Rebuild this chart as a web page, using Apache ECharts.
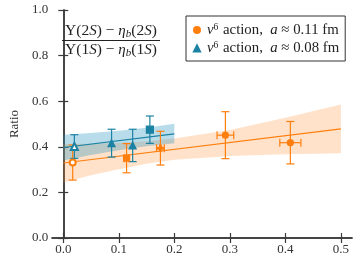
<!DOCTYPE html>
<html>
<head>
<meta charset="utf-8">
<script src="https://cdn.jsdelivr.net/npm/echarts@6/dist/echarts.min.js"></script>
<style>html,body{margin:0;padding:0;background:#fff;}#c{width:357px;height:257px;}</style>
</head>
<body>
<div id="c"></div>
<script>
// ---- data ----
const xTicks = [0.0, 0.1, 0.2, 0.3, 0.4, 0.5];
const yTicks = [0.0, 0.2, 0.4, 0.6, 0.8, 1.0];

const orangeX    = [0.017, 0.114, 0.175, 0.292, 0.409];
const orangeY    = [0.331, 0.350, 0.394, 0.451, 0.418];
const orangeYErr = [0.077, 0.064, 0.074, 0.103, 0.093];
const orangeXErr = [0.000, 0.004, 0.007, 0.015, 0.019];

const blueX    = [0.020, 0.087, 0.125, 0.156];
const blueY    = [0.401, 0.416, 0.406, 0.475];
const blueYErr = [0.052, 0.061, 0.071, 0.060];
const blueXErr = [0.000, 0.000, 0.000, 0.000];

const orangeFitX = [0.0, 0.5];
const orangeFitY = [0.329, 0.479];
const blueFitX = [0.0, 0.2];
const blueFitY = [0.397, 0.457];

const orangeBandX  = [0.0, 0.05, 0.1, 0.15, 0.2, 0.3, 0.4, 0.5];
const orangeBandLo = [0.243, 0.275, 0.302, 0.326, 0.343, 0.360, 0.367, 0.372];
const orangeBandHi = [0.412, 0.413, 0.417, 0.424, 0.436, 0.474, 0.527, 0.585];
const blueBandX  = [0.0, 0.05, 0.1, 0.15, 0.2];
const blueBandLo = [0.340, 0.364, 0.385, 0.402, 0.416];
const blueBandHi = [0.453, 0.460, 0.470, 0.484, 0.501];

// ---- styles ----
const ORANGE = '#ff7f0e';
const BLUE = '#1b82a3';
const AX = '#3a3a3a';
const FONT = 'Liberation Serif';
const plusPath = 'path://M3.5,0H6.5V3.5H10V6.5H6.5V10H3.5V6.5H0V3.5H3.5Z';
const orangeSymbols = ['emptyCircle', 'rect', plusPath, 'circle', 'circle'];
const blueSymbols = ['emptyTriangle', 'triangle', 'triangle', 'rect'];

function zip(xs, ys) { return xs.map((x, i) => [x, ys[i]]); }

function bandSeries(xs, lo, hi, color) {
  return {
    type: 'custom', z: 1, silent: true,
    data: [[xs[0], lo[0]]],
    renderItem: function (params, api) {
      const pts = [];
      for (let i = 0; i < xs.length; i++) pts.push(api.coord([xs[i], hi[i]]));
      for (let i = xs.length - 1; i >= 0; i--) pts.push(api.coord([xs[i], lo[i]]));
      return { type: 'polygon', shape: { points: pts }, style: { fill: color } };
    }
  };
}

function errSeries(xs, ys, ye, xe, color) {
  return {
    type: 'custom', z: 3, silent: true,
    data: xs.map((x, i) => [x, ys[i], ye[i], xe[i]]),
    renderItem: function (params, api) {
      const x = api.value(0), y = api.value(1), dy = api.value(2), dx = api.value(3);
      const t = api.coord([x, y + dy]), b = api.coord([x, y - dy]);
      const cap = 4;
      const st = { stroke: color, lineWidth: 1.2, fill: null };
      const ch = [
        { type: 'line', shape: { x1: t[0], y1: t[1], x2: b[0], y2: b[1] }, style: st },
        { type: 'line', shape: { x1: t[0] - cap, y1: t[1], x2: t[0] + cap, y2: t[1] }, style: st },
        { type: 'line', shape: { x1: b[0] - cap, y1: b[1], x2: b[0] + cap, y2: b[1] }, style: st }
      ];
      if (dx > 0) {
        const l = api.coord([x - dx, y]), r = api.coord([x + dx, y]);
        ch.push({ type: 'line', shape: { x1: l[0], y1: l[1], x2: r[0], y2: r[1] }, style: st });
        ch.push({ type: 'line', shape: { x1: l[0], y1: l[1] - cap, x2: l[0], y2: l[1] + cap }, style: st });
        ch.push({ type: 'line', shape: { x1: r[0], y1: r[1] - cap, x2: r[0], y2: r[1] + cap }, style: st });
      }
      return { type: 'group', children: ch };
    }
  };
}

function pointSeries(name, xs, ys, symbols, color, size) {
  return {
    name: name, type: 'scatter', z: 4,
    data: xs.map((x, i) => ({ value: [x, ys[i]], symbol: symbols[i] })),
    symbolSize: size,
    itemStyle: { color: color, borderColor: color, borderWidth: 1.2, opacity: 1 }
  };
}

const axisCommon = {
  axisLine: { show: true, lineStyle: { color: AX, width: 1.5 } },
  splitLine: { show: false }
};

const fracRich = {
  i: { fontFamily: FONT, fontStyle: 'italic', fontSize: 15, fill: '#222' },
  sub: { fontFamily: FONT, fontStyle: 'italic', fontSize: 11, fill: '#222', padding: [7, 0, 0, 0] }
};

const chart = echarts.init(document.getElementById('c'), null, { renderer: 'canvas' });
chart.setOption({
  animation: false,
  backgroundColor: '#fff',
  grid: { left: 47, right: 5, top: 10, bottom: 19 },
  xAxis: [
    Object.assign({}, axisCommon, {
      type: 'value', min: -0.02, max: 0.52, position: 'bottom',
      axisTick: { show: true, inside: true, length: 5, customValues: xTicks, lineStyle: { color: AX, width: 1.2 } },
      axisLabel: { customValues: xTicks, formatter: v => v.toFixed(1), fontFamily: FONT, fontSize: 13, color: '#333', margin: 5 }
    }),
    Object.assign({}, axisCommon, {
      type: 'value', min: -0.02, max: 0.52, position: 'top',
      axisTick: { show: true, inside: true, length: 5, customValues: xTicks, lineStyle: { color: AX, width: 1.2 } },
      axisLabel: { show: false }
    })
  ],
  yAxis: [
    Object.assign({}, axisCommon, {
      type: 'value', min: 0, max: 1, interval: 0.2, position: 'left',
      name: 'Ratio', nameLocation: 'middle', nameGap: 31, nameRotate: 90,
      nameTextStyle: { fontFamily: FONT, fontSize: 13, color: '#333' },
      axisTick: { show: true, inside: true, length: 5, lineStyle: { color: AX, width: 1.2 } },
      axisLabel: { formatter: v => v.toFixed(1), fontFamily: FONT, fontSize: 13, color: '#333', margin: 4 }
    }),
    Object.assign({}, axisCommon, {
      type: 'value', min: 0, max: 1, interval: 0.2, position: 'right',
      axisTick: { show: true, inside: true, length: 5, lineStyle: { color: AX, width: 1.2 } },
      axisLabel: { show: false }
    })
  ],
  legend: {
    orient: 'vertical', left: 186, top: 16,
    backgroundColor: '#fff', borderColor: '#333', borderWidth: 1, borderRadius: 0,
    padding: [6, 6, 5, 7], itemGap: 3, itemWidth: 6, itemHeight: 6,
    data: [{ name: 'a011', icon: 'circle' }, { name: 'a008', icon: 'triangle' }],
    formatter: function (n) {
      const a = n === 'a011' ? '0.11' : '0.08';
      return '{i|v}{sup|6} action,  {i|a} ≈ ' + a + ' fm';
    },
    textStyle: {
      fontFamily: FONT, fontSize: 14.8, color: '#222', padding: [0, 0, 0, 2],
      rich: {
        i: { fontFamily: FONT, fontStyle: 'italic', fontSize: 14.8, color: '#222' },
        sup: { fontFamily: FONT, fontSize: 9.5, color: '#222', verticalAlign: 'top', padding: [0, 1, 6, 0] }
      }
    }
  },
  graphic: [
    {
      type: 'text', x: 111, y: 31, z: 10,
      style: { text: 'Υ(2{i|S}) − {i|η}{sub|b}(2{i|S})', font: '15.5px ' + FONT, fill: '#222',
               align: 'center', verticalAlign: 'middle', rich: fracRich }
    },
    { type: 'line', z: 10, shape: { x1: 62, y1: 40.5, x2: 160, y2: 40.5 }, style: { stroke: '#222', lineWidth: 1 } },
    {
      type: 'text', x: 111, y: 50, z: 10,
      style: { text: 'Υ(1{i|S}) − {i|η}{sub|b}(1{i|S})', font: '15.5px ' + FONT, fill: '#222',
               align: 'center', verticalAlign: 'middle', rich: fracRich }
    }
  ],
  series: [
    bandSeries(orangeBandX, orangeBandLo, orangeBandHi, 'rgba(255,140,40,0.25)'),
    bandSeries(blueBandX, blueBandLo, blueBandHi, 'rgba(40,150,190,0.33)'),
    { type: 'line', z: 2, silent: true, data: zip(orangeFitX, orangeFitY), symbol: 'none', lineStyle: { color: ORANGE, width: 1.2 } },
    { type: 'line', z: 2, silent: true, data: zip(blueFitX, blueFitY), symbol: 'none', lineStyle: { color: BLUE, width: 1.2 } },
    errSeries(orangeX, orangeY, orangeYErr, orangeXErr, ORANGE),
    errSeries(blueX, blueY, blueYErr, blueXErr, BLUE),
    pointSeries('a011', orangeX, orangeY, orangeSymbols, ORANGE, 6),
    pointSeries('a008', blueX, blueY, blueSymbols, BLUE, 7)
  ]
});
</script>
</body>
</html>
